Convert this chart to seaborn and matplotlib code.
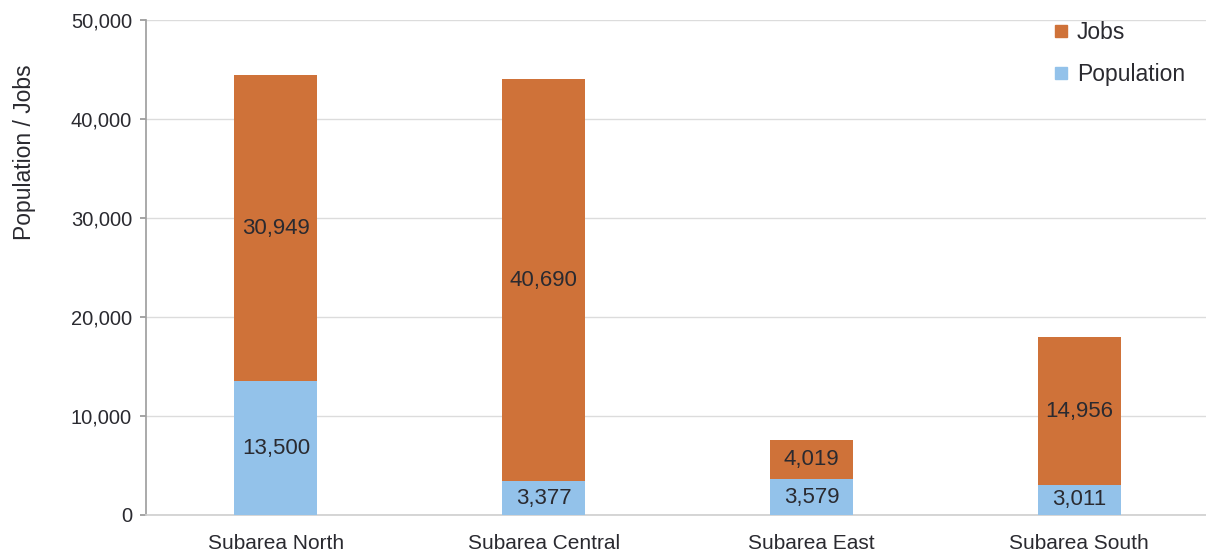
import matplotlib
matplotlib.use("Agg")
import matplotlib.pyplot as plt
from matplotlib.lines import Line2D
from matplotlib.ticker import FuncFormatter
import seaborn as sns
import pandas as pd
import numpy as np

subareas = ["Subarea North", "Subarea Central", "Subarea East", "Subarea South"]
population = [13500, 3377, 3579, 3011]
jobs = [30949, 40690, 4019, 14956]

jobs_color = "#CF7239"
pop_color = "#93C2EA"
text_color = "#2a2a30"

sns.set_theme(style="white")
plt.rcParams["font.family"] = ["Liberation Sans", "DejaVu Sans"]

df = pd.DataFrame({"subarea": subareas, "population": population, "jobs": jobs})
df["total"] = df["population"] + df["jobs"]

fig = plt.figure(figsize=(12.06, 5.56), dpi=100)
ax = fig.add_axes([0.121, 0.074, 0.885, 0.89])

sns.barplot(data=df, x="subarea", y="total", color=jobs_color, width=0.31,
            saturation=1, linewidth=0, ax=ax, zorder=3)
sns.barplot(data=df, x="subarea", y="population", color=pop_color, width=0.31,
            saturation=1, linewidth=0, ax=ax, zorder=4)

for i, (p, j) in enumerate(zip(population, jobs)):
    ax.text(i, p / 2, f"{p:,}", ha="center", va="center", fontsize=16,
            color=text_color, zorder=5)
    ax.text(i, p + j / 2, f"{j:,}", ha="center", va="center", fontsize=16,
            color=text_color, zorder=5)

ax.set_ylim(0, 50000)
ax.set_xlim(-0.485, 3.5)
ax.set_yticks(np.arange(0, 50001, 10000))
ax.yaxis.set_major_formatter(FuncFormatter(lambda v, _: f"{int(v):,}"))
ax.yaxis.grid(True, color="#dcdcdc", linewidth=1, zorder=0)
ax.set_axisbelow(True)

ax.set_xlabel("")
ax.set_ylabel("Population / Jobs", fontsize=16.5, color=text_color)
ax.yaxis.set_label_coords(-0.103, 0.733)
ax.tick_params(axis="y", labelsize=14.5, labelcolor=text_color, left=True,
               length=4, color="#999999", pad=6)
ax.tick_params(axis="x", labelsize=15, labelcolor=text_color, bottom=False, pad=8)

for side in ["top", "right"]:
    ax.spines[side].set_visible(False)
ax.spines["left"].set_color("#a0a0a0")
ax.spines["bottom"].set_color("#d0d0d0")

handles = [
    Line2D([], [], marker="s", linestyle="none", markersize=8,
           markerfacecolor=jobs_color, markeredgecolor=jobs_color, label="Jobs"),
    Line2D([], [], marker="s", linestyle="none", markersize=8,
           markerfacecolor=pop_color, markeredgecolor=pop_color, label="Population"),
]
ax.legend(handles=handles, loc="upper right", bbox_to_anchor=(0.993, 1.04),
          frameon=False, fontsize=16.5, handletextpad=-0.1, labelspacing=0.85,
          handlelength=1.6, labelcolor=text_color)

fig.savefig("out.png", dpi=100)
